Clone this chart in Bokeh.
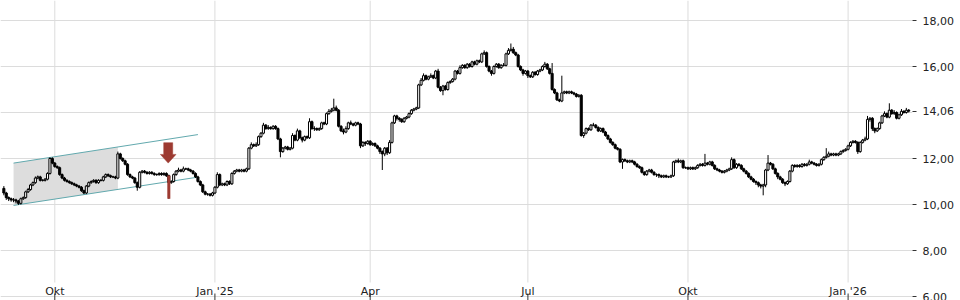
import numpy as np
import pandas as pd
from bokeh.plotting import figure
from bokeh.models import ColumnDataSource, FixedTicker, CustomJSTickFormatter, Range1d
from bokeh.embed import file_html
from bokeh.resources import INLINE
from bokeh.core.properties import value

# ---------------- data ----------------
start_date = "2024-09-02"

opens = [
 10.7, 10.5, 10.3, 10.25, 10.2, 10.2, 10.15, 10.05, 10.25, 10.3,
 10.55, 10.65, 10.85, 10.95, 11.15, 11.2, 11.05, 11.05, 11.1, 11.35,
 12.0, 11.8, 11.65, 11.6, 11.3, 11.15, 11.05, 11.0, 10.95, 10.9,
 10.85, 10.8, 10.75, 10.6, 10.5, 10.8, 10.95, 11.0, 11.05, 10.95,
 11.05, 11.05, 11.2, 11.3, 11.25, 11.2, 11.2, 11.15, 12.2, 12.0,
 11.9, 11.75, 11.3, 11.2, 11.15, 10.95, 10.75, 11.4, 11.45, 11.4,
 11.35, 11.4, 11.35, 11.3, 11.3, 11.35, 11.3, 11.35, 11.25, 10.95,
 11.0, 11.3, 11.45, 11.5, 11.45, 11.55, 11.55, 11.5, 11.45, 11.35,
 11.2, 11.0, 10.85, 10.55, 10.45, 10.45, 10.4, 10.5, 10.75, 11.3,
 10.85, 10.9, 10.85, 11.0, 10.9, 11.35, 11.45, 11.5, 11.45, 11.5,
 11.45, 11.55, 12.45, 12.6, 12.55, 12.6, 12.95, 13.1, 13.45, 13.3,
 13.35, 13.3, 13.4, 13.3, 12.85, 12.3, 12.45, 12.5, 12.4, 12.45,
 13.0, 12.8, 13.2, 12.9, 12.8, 12.95, 12.9, 13.6, 13.3, 13.3,
 13.25, 13.3, 13.55, 13.5, 13.95, 14.05, 14.1, 14.2, 14.1, 13.4,
 13.2, 13.15, 13.3, 13.55, 13.5, 13.45, 13.55, 13.5, 12.55, 12.7,
 12.65, 12.75, 12.6, 12.65, 12.55, 12.45, 12.3, 12.2, 12.45, 12.25,
 12.7, 13.55, 13.85, 13.75, 13.7, 13.6, 13.75, 13.8, 13.95, 14.1,
 14.15, 14.2, 15.2, 15.4, 15.6, 15.45, 15.55, 15.6, 15.5, 15.8,
 15.1, 14.95, 15.15, 15.0, 15.3, 15.35, 15.45, 15.8, 15.7, 15.95,
 16.05, 15.95, 16.1, 16.0, 16.2, 16.1, 16.25, 16.2, 16.55, 16.6,
 16.0, 15.8, 15.7, 16.0, 16.1, 15.95, 16.05, 16.05, 16.55, 16.7,
 16.75, 16.6, 16.5, 16.0, 15.85, 15.7, 15.8, 15.6, 15.55, 15.75,
 15.65, 15.8, 15.85, 16.0, 16.1, 15.9, 15.7, 15.0, 14.85, 14.55,
 14.5, 14.85, 14.9, 14.85, 14.9, 14.85, 14.8, 14.7, 14.75, 13.0,
 13.1, 13.3, 13.25, 13.45, 13.45, 13.35, 13.2, 13.3, 13.15, 13.0,
 12.85, 12.7, 12.6, 12.45, 12.4, 11.85, 11.95, 11.9, 11.85, 11.9,
 11.85, 11.75, 11.65, 11.6, 11.4, 11.3, 11.45, 11.5, 11.4, 11.3,
 11.3, 11.25, 11.2, 11.25, 11.2, 11.2, 11.25, 11.85, 11.9, 11.85,
 11.9, 11.6, 11.6, 11.55, 11.6, 11.55, 11.6, 11.7, 11.75, 11.7,
 11.8, 11.75, 11.85, 11.7, 11.55, 11.5, 11.45, 11.4, 11.45, 11.5,
 11.55, 11.95, 11.6, 11.75, 11.7, 11.55, 11.45, 11.35, 11.2, 11.1,
 11.0, 10.95, 10.85, 10.8, 10.85, 11.5, 11.8, 11.75, 11.55, 11.35,
 11.2, 11.1, 10.95, 10.9, 11.0, 11.45, 11.7, 11.65, 11.7, 11.65,
 11.75, 11.7, 11.75, 11.85, 11.8, 11.75, 11.7, 11.75, 11.95, 12.05,
 12.1, 12.2, 12.15, 12.2, 12.15, 12.2, 12.3, 12.35, 12.4, 12.55,
 12.7, 12.75, 12.7, 12.3, 12.7, 12.8, 12.85, 13.7, 13.75, 13.3,
 13.2, 13.3, 13.55, 13.85, 13.95, 13.8, 14.1, 13.95, 14.0, 13.75,
 13.9, 14.05, 14.0, 14.1]

highs = [
 10.8, 10.55, 10.35, 10.3, 10.28, 10.25, 10.2, 10.3, 10.35, 10.6,
 10.72, 10.9, 11.0, 11.22, 11.26, 11.25, 11.1, 11.15, 11.4, 12.05,
 12.05, 11.85, 11.7, 11.65, 11.35, 11.2, 11.1, 11.05, 11.0, 10.95,
 10.9, 10.85, 10.8, 10.65, 10.85, 11.0, 11.05, 11.1, 11.1, 11.1,
 11.1, 11.25, 11.35, 11.35, 11.3, 11.25, 11.25, 12.3, 12.25, 12.05,
 11.95, 11.8, 11.35, 11.25, 11.2, 11.0, 11.45, 11.5, 11.5, 11.45,
 11.45, 11.45, 11.4, 11.35, 11.4, 11.4, 11.4, 11.4, 11.3, 11.05,
 11.35, 11.5, 11.6, 11.55, 11.65, 11.6, 11.6, 11.55, 11.5, 11.4,
 11.25, 11.05, 10.9, 10.6, 10.5, 10.5, 10.55, 10.8, 11.4, 11.35,
 10.95, 10.95, 11.05, 11.05, 11.4, 11.5, 11.55, 11.55, 11.55, 11.55,
 11.6, 12.5, 12.7, 12.65, 12.7, 13.0, 13.15, 13.55, 13.5, 13.45,
 13.4, 13.45, 13.45, 13.35, 12.9, 12.5, 12.55, 12.55, 12.5, 13.1,
 13.05, 13.3, 13.25, 12.95, 13.0, 13.0, 13.75, 13.65, 13.4, 13.35,
 13.35, 13.6, 13.6, 14.0, 14.15, 14.2, 14.6, 14.3, 14.15, 13.45,
 13.3, 13.4, 13.6, 13.65, 13.55, 13.6, 13.6, 13.55, 12.75, 12.75,
 12.8, 12.8, 12.7, 12.7, 12.6, 12.5, 12.35, 12.5, 12.5, 12.8,
 13.6, 13.9, 13.9, 13.8, 13.75, 13.8, 13.85, 14.0, 14.15, 14.2,
 14.25, 15.25, 15.5, 15.7, 15.65, 15.6, 15.7, 15.65, 15.85, 15.9,
 15.15, 15.2, 15.2, 15.35, 15.4, 15.5, 15.85, 15.85, 16.05, 16.1,
 16.1, 16.15, 16.15, 16.25, 16.25, 16.3, 16.3, 16.6, 16.7, 16.65,
 16.05, 15.85, 16.05, 16.15, 16.15, 16.1, 16.15, 16.6, 16.8, 17.0,
 16.85, 16.65, 16.55, 16.05, 15.9, 15.85, 15.85, 15.65, 15.8, 15.8,
 15.85, 15.9, 16.05, 16.2, 16.15, 15.95, 16.15, 15.05, 14.9, 14.6,
 15.6, 14.95, 14.95, 14.95, 14.95, 14.9, 14.85, 14.8, 14.8, 13.15,
 13.35, 13.35, 13.5, 13.55, 13.5, 13.4, 13.35, 13.35, 13.2, 13.05,
 12.9, 12.75, 12.65, 12.5, 12.45, 12.0, 12.0, 11.95, 11.95, 11.95,
 11.9, 11.8, 11.7, 11.65, 11.45, 11.5, 11.55, 11.55, 11.45, 11.35,
 11.35, 11.3, 11.3, 11.3, 11.25, 11.3, 11.9, 11.95, 12.0, 11.95,
 11.95, 11.65, 11.65, 11.65, 11.65, 11.65, 11.75, 11.8, 11.8, 12.2,
 11.85, 11.9, 11.9, 11.75, 11.6, 11.55, 11.5, 11.5, 11.55, 11.6,
 12.05, 12.0, 11.8, 11.8, 11.75, 11.6, 11.5, 11.4, 11.25, 11.15,
 11.05, 11.0, 10.9, 10.9, 11.55, 12.15, 11.85, 11.8, 11.6, 11.4,
 11.25, 11.15, 11.0, 11.05, 11.5, 11.75, 11.75, 11.75, 11.75, 11.8,
 11.8, 11.8, 11.95, 11.9, 11.85, 11.8, 11.8, 12.0, 12.1, 12.45,
 12.3, 12.25, 12.25, 12.25, 12.25, 12.35, 12.4, 12.45, 12.6, 12.75,
 12.8, 12.8, 12.75, 12.75, 12.85, 12.95, 13.85, 13.8, 13.8, 13.35,
 13.35, 13.6, 13.9, 14.05, 14.0, 14.4, 14.15, 14.1, 14.05, 13.95,
 14.15, 14.1, 14.2, 14.15]

lows = [
 10.4, 10.2, 10.15, 10.12, 10.1, 10.05, 9.98, 10.0, 10.2, 10.25,
 10.5, 10.6, 10.8, 10.9, 11.1, 11.0, 11.0, 11.0, 11.05, 11.3,
 11.75, 11.6, 11.55, 11.25, 11.1, 11.0, 10.95, 10.9, 10.85, 10.8,
 10.75, 10.7, 10.55, 10.45, 10.45, 10.75, 10.9, 10.95, 10.9, 10.9,
 11.0, 11.0, 11.15, 11.2, 11.15, 11.15, 11.1, 11.1, 11.95, 11.85,
 11.7, 11.25, 11.15, 11.1, 10.9, 10.6, 10.7, 11.35, 11.35, 11.3,
 11.3, 11.3, 11.25, 11.25, 11.25, 11.25, 11.25, 11.2, 10.25, 10.9,
 10.95, 11.25, 11.4, 11.4, 11.4, 11.5, 11.45, 11.4, 11.3, 11.15,
 10.95, 10.8, 10.5, 10.4, 10.38, 10.35, 10.35, 10.45, 10.7, 10.8,
 10.8, 10.8, 10.8, 10.85, 10.85, 11.3, 11.4, 11.4, 11.4, 11.4,
 11.4, 11.5, 12.4, 12.5, 12.5, 12.55, 12.9, 13.05, 13.25, 13.25,
 13.25, 13.25, 13.25, 12.8, 12.05, 12.25, 12.4, 12.35, 12.35, 12.4,
 12.75, 12.75, 12.85, 12.7, 12.75, 12.85, 12.85, 13.25, 13.2, 13.2,
 13.2, 13.25, 13.45, 13.45, 13.9, 14.0, 14.05, 14.05, 13.35, 13.15,
 13.05, 13.1, 13.25, 13.45, 13.4, 13.4, 13.45, 12.45, 12.5, 12.55,
 12.6, 12.55, 12.55, 12.5, 12.4, 12.2, 11.5, 12.1, 12.15, 12.2,
 12.65, 13.5, 13.65, 13.6, 13.55, 13.55, 13.7, 13.75, 13.9, 14.05,
 14.1, 14.15, 15.15, 15.35, 15.4, 15.4, 15.5, 15.45, 15.45, 15.05,
 14.9, 14.75, 14.95, 14.95, 15.25, 15.3, 15.4, 15.65, 15.65, 15.9,
 15.9, 15.9, 15.95, 15.95, 16.05, 16.05, 16.15, 16.15, 16.5, 15.95,
 15.75, 15.6, 15.65, 15.95, 15.9, 15.9, 16.0, 16.0, 16.5, 16.65,
 16.55, 16.45, 15.95, 15.8, 15.6, 15.65, 15.5, 15.5, 15.5, 15.6,
 15.6, 15.75, 15.8, 15.95, 15.85, 15.65, 14.95, 14.8, 14.5, 14.45,
 14.45, 14.8, 14.8, 14.8, 14.8, 14.75, 14.65, 14.65, 12.95, 12.9,
 13.05, 13.2, 13.2, 13.4, 13.3, 13.15, 13.15, 13.1, 12.95, 12.8,
 12.65, 12.55, 12.4, 12.35, 11.8, 11.55, 11.85, 11.8, 11.8, 11.8,
 11.7, 11.6, 11.55, 11.35, 11.25, 11.25, 11.4, 11.35, 11.25, 11.2,
 11.15, 11.15, 11.15, 11.15, 11.15, 11.15, 11.2, 11.8, 11.8, 11.8,
 11.55, 11.55, 11.5, 11.5, 11.5, 11.5, 11.55, 11.65, 11.65, 11.65,
 11.7, 11.7, 11.65, 11.5, 11.45, 11.4, 11.35, 11.35, 11.4, 11.45,
 11.5, 11.55, 11.55, 11.65, 11.5, 11.4, 11.3, 11.15, 11.05, 10.95,
 10.85, 10.75, 10.7, 10.4, 10.75, 11.45, 11.7, 11.5, 11.3, 11.1,
 11.05, 10.9, 10.8, 10.85, 10.95, 11.4, 11.6, 11.6, 11.6, 11.6,
 11.65, 11.65, 11.7, 11.75, 11.7, 11.65, 11.65, 11.7, 11.9, 12.0,
 12.05, 12.1, 12.1, 12.1, 12.1, 12.15, 12.25, 12.3, 12.35, 12.5,
 12.65, 12.65, 12.2, 12.25, 12.65, 12.75, 12.8, 13.6, 13.2, 13.1,
 13.15, 13.25, 13.5, 13.8, 13.75, 13.75, 13.9, 13.9, 13.7, 13.7,
 13.85, 13.95, 13.95, 14.0]

closes = [
 10.5, 10.3, 10.25, 10.2, 10.2, 10.15, 10.05, 10.25, 10.3, 10.55,
 10.65, 10.85, 10.95, 11.15, 11.2, 11.05, 11.05, 11.1, 11.35, 12.0,
 11.8, 11.65, 11.6, 11.3, 11.15, 11.05, 11.0, 10.95, 10.9, 10.85,
 10.8, 10.75, 10.6, 10.5, 10.8, 10.95, 11.0, 11.05, 10.95, 11.05,
 11.05, 11.2, 11.3, 11.25, 11.2, 11.2, 11.15, 12.2, 12.0, 11.9,
 11.75, 11.3, 11.2, 11.15, 10.95, 10.75, 11.4, 11.45, 11.4, 11.35,
 11.4, 11.35, 11.3, 11.3, 11.35, 11.3, 11.35, 11.25, 10.95, 11.0,
 11.3, 11.45, 11.5, 11.45, 11.55, 11.55, 11.5, 11.45, 11.35, 11.2,
 11.0, 10.85, 10.55, 10.45, 10.45, 10.4, 10.5, 10.75, 11.3, 10.85,
 10.9, 10.85, 11.0, 10.9, 11.35, 11.45, 11.5, 11.45, 11.5, 11.45,
 11.55, 12.45, 12.6, 12.55, 12.6, 12.95, 13.1, 13.45, 13.3, 13.35,
 13.3, 13.4, 13.3, 12.85, 12.3, 12.45, 12.5, 12.4, 12.45, 13.0,
 12.8, 13.2, 12.9, 12.8, 12.95, 12.9, 13.6, 13.3, 13.3, 13.25,
 13.3, 13.55, 13.5, 13.95, 14.05, 14.1, 14.2, 14.1, 13.4, 13.2,
 13.15, 13.3, 13.55, 13.5, 13.45, 13.55, 13.5, 12.55, 12.7, 12.65,
 12.75, 12.6, 12.65, 12.55, 12.45, 12.3, 12.2, 12.45, 12.25, 12.7,
 13.55, 13.85, 13.75, 13.7, 13.6, 13.75, 13.8, 13.95, 14.1, 14.15,
 14.2, 15.2, 15.4, 15.6, 15.45, 15.55, 15.6, 15.5, 15.8, 15.1,
 14.95, 15.15, 15.0, 15.3, 15.35, 15.45, 15.8, 15.7, 15.95, 16.05,
 15.95, 16.1, 16.0, 16.2, 16.1, 16.25, 16.2, 16.55, 16.6, 16.0,
 15.8, 15.7, 16.0, 16.1, 15.95, 16.05, 16.05, 16.55, 16.7, 16.75,
 16.6, 16.5, 16.0, 15.85, 15.7, 15.8, 15.6, 15.55, 15.75, 15.65,
 15.8, 15.85, 16.0, 16.1, 15.9, 15.7, 15.0, 14.85, 14.55, 14.5,
 14.85, 14.9, 14.85, 14.9, 14.85, 14.8, 14.7, 14.75, 13.0, 13.1,
 13.3, 13.25, 13.45, 13.45, 13.35, 13.2, 13.3, 13.15, 13.0, 12.85,
 12.7, 12.6, 12.45, 12.4, 11.85, 11.95, 11.9, 11.85, 11.9, 11.85,
 11.75, 11.65, 11.6, 11.4, 11.3, 11.45, 11.5, 11.4, 11.3, 11.3,
 11.25, 11.2, 11.25, 11.2, 11.2, 11.25, 11.85, 11.9, 11.85, 11.9,
 11.6, 11.6, 11.55, 11.6, 11.55, 11.6, 11.7, 11.75, 11.7, 11.8,
 11.75, 11.85, 11.7, 11.55, 11.5, 11.45, 11.4, 11.45, 11.5, 11.55,
 11.95, 11.6, 11.75, 11.7, 11.55, 11.45, 11.35, 11.2, 11.1, 11.0,
 10.95, 10.85, 10.8, 10.85, 11.5, 11.8, 11.75, 11.55, 11.35, 11.2,
 11.1, 10.95, 10.9, 11.0, 11.45, 11.7, 11.65, 11.7, 11.65, 11.75,
 11.7, 11.75, 11.85, 11.8, 11.75, 11.7, 11.75, 11.95, 12.05, 12.1,
 12.2, 12.15, 12.2, 12.15, 12.2, 12.3, 12.35, 12.4, 12.55, 12.7,
 12.75, 12.7, 12.3, 12.7, 12.8, 12.85, 13.7, 13.75, 13.3, 13.2,
 13.3, 13.55, 13.85, 13.95, 13.8, 14.1, 13.95, 14.0, 13.75, 13.9,
 14.05, 14.0, 14.1, 14.06]

tick_dates = ["2024-10-01", "2025-01-01", "2025-04-01", "2025-07-01", "2025-10-01", "2026-01-01"]
tick_labels = ["Okt", "Jan '25", "Apr", "Jul", "Okt", "Jan '26"]
price_ticks = [6, 8, 10, 12, 14, 16, 18]
last_price = 14.06

channel_dates = ["2024-09-06", "2024-12-23"]
channel_upper = [11.80, 13.04]
channel_lower = [9.96, 11.19]
channel_fill_end = "2024-11-06"

signal_date = "2024-12-05"
signal_low = 10.25
signal_high = 11.26
arrow_tip_price = 11.80

# ---------------- layout ----------------
W, H = 960, 300
RIGHT = 48
FRAME_W = W - RIGHT
PX_PER_DAY = 2.426
X0_PX = 3.35
PX_PER_UNIT = 23.0
Y_AT_6_PX = 296.0

x_start = -X0_PX / PX_PER_DAY
x_end = (FRAME_W - X0_PX) / PX_PER_DAY
y_end = 6 + Y_AT_6_PX / PX_PER_UNIT
y_start = 6 - (H - Y_AT_6_PX) / PX_PER_UNIT

def py(pix):
    """price value at a pixel row"""
    return 6 + (Y_AT_6_PX - pix) / PX_PER_UNIT

n = min(len(opens), len(highs), len(lows), len(closes))
dates = pd.bdate_range(start_date, periods=n)
idx = np.arange(n)

def d2i(d):
    return int(dates.searchsorted(pd.Timestamp(d)))

o = np.array(opens[:n]); hi = np.array(highs[:n]); lo = np.array(lows[:n]); c = np.array(closes[:n])
up = c >= o
src = ColumnDataSource(dict(
    x=idx, o=o, h=hi, l=lo, c=c,
    top=np.maximum(o, c), bottom=np.minimum(o, c),
    fill=np.where(up, "white", "black"),
))

p = figure(width=W, height=H, output_backend="svg", toolbar_location=None, tools="",
           x_range=Range1d(x_start, x_end), y_range=Range1d(y_start, y_end),
           x_axis_location=None, y_axis_location="right",
           min_border_left=0, min_border_top=0, min_border_bottom=0, min_border_right=RIGHT)
p.outline_line_color = None
p.background_fill_color = "white"
p.border_fill_color = "white"

# grids
p.ygrid.ticker = FixedTicker(ticks=price_ticks)
p.ygrid.grid_line_color = "#dcdcdc"
p.xgrid.grid_line_color = None

tick_idx = [d2i(d) for d in tick_dates]
p.segment(x0=tick_idx, x1=tick_idx, y0=[py(282)] * len(tick_idx), y1=[y_end] * len(tick_idx),
          line_color="#dcdcdc", line_width=1)
p.segment(x0=tick_idx, x1=tick_idx, y0=[py(293)] * len(tick_idx), y1=[y_start] * len(tick_idx),
          line_color="#333333", line_width=1)
p.text(x=tick_idx, y=[py(291)] * len(tick_idx), text=tick_labels,
       text_font=value("DejaVu Sans"), text_font_size="11px", text_color="#222222",
       text_align="center", text_baseline="alphabetic")

# right axis
yax = p.yaxis[0]
yax.ticker = FixedTicker(ticks=[t for t in price_ticks if t != 14] + [last_price])
yax.formatter = CustomJSTickFormatter(code="return tick.toFixed(2).replace('.', ',');")
yax.axis_line_color = None
yax.major_tick_in = 0
yax.major_tick_out = 4
yax.major_tick_line_color = "#333333"
yax.minor_tick_line_color = None
yax.major_label_standoff = 6
yax.major_label_text_font = "DejaVu Sans"
yax.major_label_text_font_size = "11px"
yax.major_label_text_color = "#222222"

# trend channel
ci = [d2i(d) for d in channel_dates]
fe = d2i(channel_fill_end)
up_fe = float(np.interp(fe, ci, channel_upper))
lo_fe = float(np.interp(fe, ci, channel_lower))
p.patch(x=[ci[0], fe, fe, ci[0]], y=[channel_upper[0], up_fe, lo_fe, channel_lower[0]],
        fill_color="#dddddd", line_color=None)
p.line(x=ci, y=channel_upper, line_color="#62a9ae", line_width=1)
p.line(x=ci, y=channel_lower, line_color="#62a9ae", line_width=1)

# candles
p.segment(x0="x", x1="x", y0="l", y1="h", source=src, line_color="black", line_width=1)
p.vbar(x="x", width=0.85, top="top", bottom="bottom", source=src,
       fill_color="fill", line_color="black", line_width=1)

# signal marker
si = d2i(signal_date)
RED = "#9d3a31"
p.segment(x0=[si], x1=[si], y0=[signal_low], y1=[signal_high], line_color=RED, line_width=3)
dx = [0, -7.8, -4.5, -4.5, 4.5, 4.5, 7.8]
dy = [0, 8.7, 8.7, 20.4, 20.4, 8.7, 8.7]
ax = [si - 0.25 + d / PX_PER_DAY for d in dx]
ay = [arrow_tip_price + d / PX_PER_UNIT for d in dy]
p.patch(x=ax, y=ay, fill_color=RED, line_color=RED, line_width=0.5)

open("out.html", "w").write(file_html(p, INLINE))
